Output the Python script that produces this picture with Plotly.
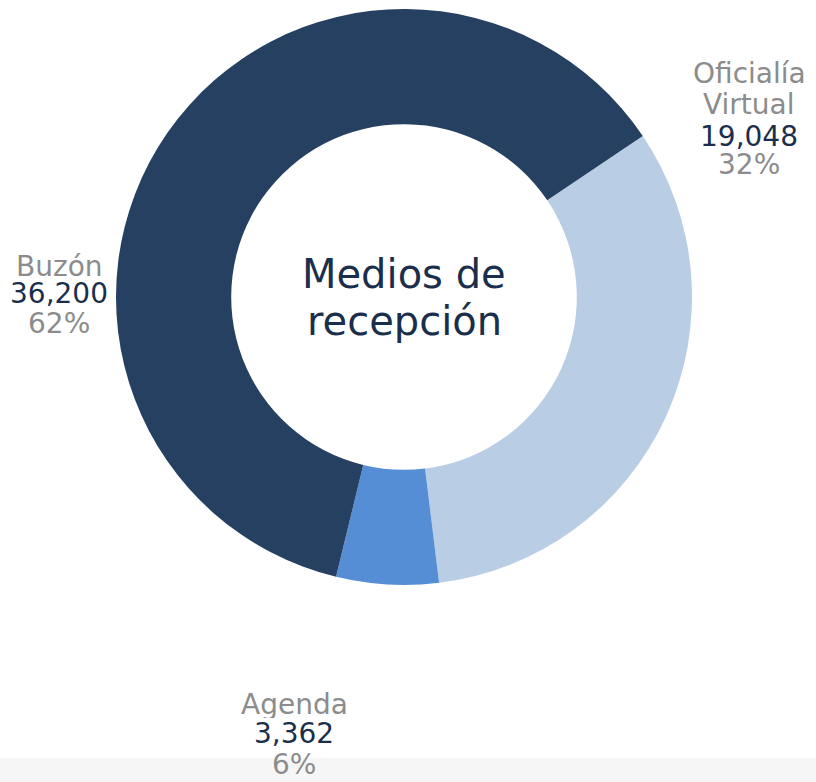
import plotly.graph_objects as go

# ---- data ----
categories = ["Oficialía Virtual", "Agenda", "Buzón"]
values = [19048, 3362, 36200]
colors = ["#B9CDE5", "#558ED5", "#254061"]
center_title = ["Medios de", "recepción"]

W, H = 816, 782
FONT = "DejaVu Sans"
GRAY = "#8C8C8C"
NAVY = "#1B2F4D"

total = sum(values)
pcts = [f"{round(v / total * 100)}%" for v in values]

fig = go.Figure()
fig.add_trace(go.Pie(
    labels=categories,
    values=values,
    hole=0.6,
    sort=False,
    direction="clockwise",
    rotation=56,
    marker=dict(colors=colors, line=dict(color="white", width=0)),
    textinfo="none",
    hoverinfo="label+value+percent",
    showlegend=False,
    domain=dict(x=[116 / W, 692 / W], y=[1 - 585 / H, 1 - 9 / H]),
))

# label layout (pixel positions of line centres)
label_layout = {
    "Oficialía Virtual": dict(x=749, lines_y=[74, 104, 136, 164], split=True),
    "Agenda": dict(x=294, lines_y=[704, 733, 764], split=False),
    "Buzón": dict(x=59, lines_y=[266, 294, 323], split=False),
}

annotations = []
for cat, val, pct in zip(categories, values, pcts):
    lay = label_layout[cat]
    name_lines = cat.split(" ") if lay["split"] else [cat]
    lines = [(n, GRAY) for n in name_lines] + [(f"{val:,}", NAVY), (pct, GRAY)]
    for (txt, col), py in zip(lines, lay["lines_y"]):
        annotations.append(dict(
            x=lay["x"] / W, y=1 - py / H, xref="paper", yref="paper",
            text=txt, showarrow=False, xanchor="center", yanchor="middle",
            height=27, valign="middle",
            font=dict(family=FONT, size=28, color=col),
        ))

for txt, py in zip(center_title, [274, 321]):
    annotations.append(dict(
        x=404 / W, y=1 - py / H, xref="paper", yref="paper",
        text=txt, showarrow=False, xanchor="center", yanchor="middle",
        height=44, valign="middle",
        font=dict(family=FONT, size=40, color=NAVY),
    ))

fig.update_layout(
    width=W, height=H,
    margin=dict(l=0, r=0, t=0, b=0),
    paper_bgcolor="white",
    plot_bgcolor="white",
    annotations=annotations,
    shapes=[dict(type="rect", xref="paper", yref="paper", x0=0, x1=1,
                 y0=0, y1=(H - 758) / H, fillcolor="#F6F6F6",
                 line=dict(width=0), layer="below")],
)

fig.write_html(
    "out.html",
    config={"displayModeBar": False},
    post_script="document.body.style.margin='0';document.body.style.padding='0';",
)
